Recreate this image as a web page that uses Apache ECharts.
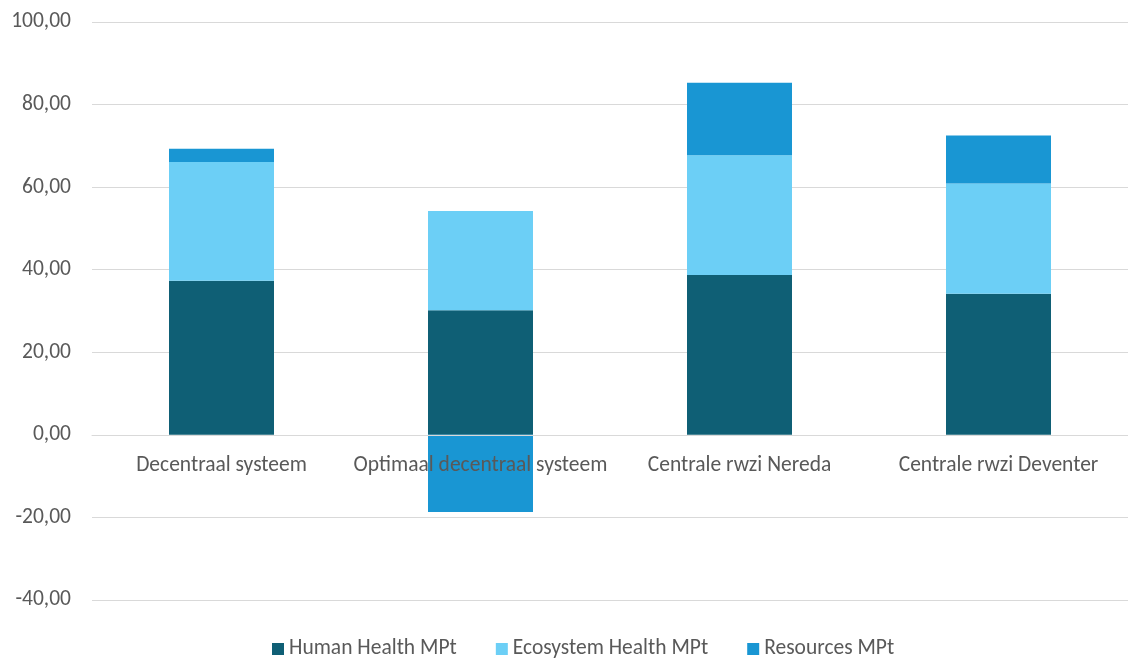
<!DOCTYPE html>
<html>
<head>
<meta charset="utf-8">
<script src="https://cdn.jsdelivr.net/npm/echarts@6/dist/echarts.min.js"></script>
<style>
  html, body { margin: 0; padding: 0; background: #ffffff; }
  #chart { width: 1128px; height: 659px; }
</style>
</head>
<body>
<div id="chart"></div>
<script>
// Scenarios compared
const categories = ['Decentraal systeem', 'Optimaal decentraal systeem', 'Centrale rwzi Nereda', 'Centrale rwzi Deventer'];

// Impact per damage category (MPt)
const humanHealth = [37.3, 30.2, 38.7, 34.2];
const ecosystemHealth = [28.8, 24.0, 29.0, 26.7];
const resources = [3.2, -18.7, 17.6, 11.6];

const seriesNames = ['Human Health MPt', 'Ecosystem Health MPt', 'Resources MPt'];
const seriesColors = ['#0F5F75', '#6CCFF6', '#1996D3'];

const fontFamily = 'Carlito, Lato, "Open Sans", sans-serif';
const textColor = '#595959';

const Y_MIN = -40, Y_MAX = 100;
const GRID_TOP = 22, GRID_BOTTOM = 59, CHART_H = 659;
// category axis sits on the zero line
const plotH = CHART_H - GRID_TOP - GRID_BOTTOM;
const zeroOffset = -plotH * (0 - Y_MIN) / (Y_MAX - Y_MIN);

const chart = echarts.init(document.getElementById('chart'));

const makeSeries = (name, data, color) => ({
  name: name,
  type: 'bar',
  stack: 'total',
  data: data,
  barWidth: 105,
  itemStyle: { color: color },
  emphasis: { disabled: true }
});

chart.setOption({
  animation: false,
  backgroundColor: '#ffffff',
  grid: { left: 92, right: -8, top: GRID_TOP, bottom: GRID_BOTTOM, containLabel: false },
  legend: {
    bottom: -6,
    left: 267,
    itemWidth: 12,
    itemHeight: 12,
    itemGap: 39,
    icon: 'rect',
    textStyle: { color: textColor, fontSize: 21.5, fontFamily: fontFamily },
    data: seriesNames
  },
  xAxis: {
    type: 'category',
    data: categories,
    z: 10,
    position: 'bottom',
    offset: zeroOffset,
    axisLine: { show: true, onZero: false, lineStyle: { color: '#D9D9D9', width: 1 } },
    axisTick: { show: false },
    axisLabel: { color: textColor, fontSize: 21.5, fontFamily: fontFamily, margin: 20, interval: 0 }
  },
  yAxis: {
    type: 'value',
    min: Y_MIN,
    max: Y_MAX,
    interval: 20,
    axisLine: { show: false },
    axisTick: { show: false },
    splitLine: { lineStyle: { color: '#D9D9D9', width: 1 } },
    axisLabel: {
      color: textColor,
      fontSize: 21.5,
      fontFamily: fontFamily,
      margin: 21,
      formatter: v => v.toFixed(2).replace('.', ',')
    }
  },
  series: [
    makeSeries(seriesNames[0], humanHealth, seriesColors[0]),
    makeSeries(seriesNames[1], ecosystemHealth, seriesColors[1]),
    makeSeries(seriesNames[2], resources, seriesColors[2])
  ]
});
</script>
</body>
</html>
